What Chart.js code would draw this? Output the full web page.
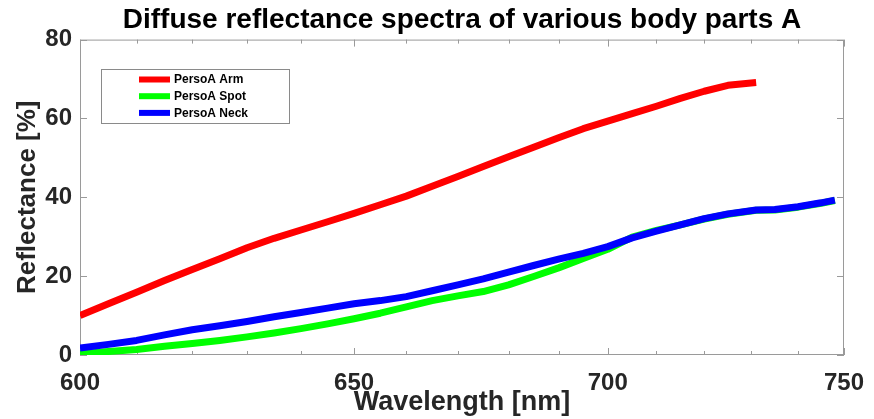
<!DOCTYPE html>
<html>
<head>
<meta charset="utf-8">
<title>Diffuse reflectance spectra</title>
<script src="https://cdn.jsdelivr.net/npm/chart.js@4.4.1/dist/chart.umd.min.js"></script>
<style>
  html, body { margin: 0; padding: 0; background: #fff; }
  canvas { display: block; }
</style>
</head>
<body>
<canvas id="spectra" width="874" height="419"></canvas>
<script>
// wavelength grid [nm]
const wavelengths = [600, 605, 610, 615, 620, 625, 630, 635, 640, 645, 650, 655, 660, 665, 670,
  675, 680, 685, 690, 695, 700, 705, 710, 715, 720, 725, 731, 735, 740, 745, 748];

// reflectance [%] per body part (arm stops at 731 nm)
const armValues = [10.0, 13.0, 15.9, 18.9, 21.7, 24.4, 27.2, 29.6, 31.7, 33.8, 35.9, 38.1, 40.3, 42.8, 45.3,
  47.8, 50.3, 52.7, 55.1, 57.4, 59.3, 61.2, 63.1, 65.1, 66.9, 68.4, 69.1];
const spotValues = [0.3, 0.9, 1.4, 2.2, 2.9, 3.7, 4.6, 5.6, 6.7, 7.9, 9.2, 10.6, 12.2, 13.8, 15.0,
  16.1, 17.8, 19.9, 22.1, 24.5, 26.8, 29.9, 31.6, 33.0, 34.5, 35.7, 36.7, 36.8, 37.5, 38.5, 39.2];
const neckValues = [1.8, 2.7, 3.7, 5.1, 6.4, 7.4, 8.5, 9.7, 10.8, 11.9, 13.0, 13.8, 14.8, 16.3, 17.8,
  19.3, 21.0, 22.7, 24.3, 25.8, 27.5, 29.7, 31.4, 33.0, 34.6, 35.8, 36.8, 36.9, 37.6, 38.6, 39.3];

const seriesLabels = ['PersoA Arm', 'PersoA Spot', 'PersoA Neck'];
const xTickValues = [600, 610, 620, 630, 640, 650, 660, 670, 680, 690, 700, 710, 720, 730, 740, 750];
const xTickLabels = [600, 650, 700, 750];
const yTickValues = [0, 20, 40, 60, 80];

const FONT = "'Liberation Sans', Arial, Helvetica, sans-serif";
const TEXT = '#262626';

function toPoints(values) {
  return values.map((v, i) => ({ x: wavelengths[i], y: v }));
}

// box around the axes with inward tick marks on all four sides
const axesBox = {
  id: 'axesBox',
  beforeDatasetsDraw(chart) {
    const { ctx, chartArea: a, scales } = chart;
    ctx.save();
    ctx.strokeStyle = '#9a9a9a';
    ctx.lineWidth = 1;
    ctx.strokeRect(a.left + 0.5, a.top + 0.5, a.right - a.left - 1, a.bottom - a.top - 1);
    ctx.beginPath();
    scales.x.ticks.forEach(t => {
      const px = Math.round(scales.x.getPixelForValue(t.value)) + 0.5;
      const len = xTickLabels.includes(t.value) ? 7 : 4;
      ctx.moveTo(px, a.bottom); ctx.lineTo(px, a.bottom - len);
      ctx.moveTo(px, a.top); ctx.lineTo(px, a.top + len);
    });
    scales.y.ticks.forEach(t => {
      const py = Math.round(scales.y.getPixelForValue(t.value)) + 0.5;
      ctx.moveTo(a.left, py); ctx.lineTo(a.left + 7, py);
      ctx.moveTo(a.right, py); ctx.lineTo(a.right - 7, py);
    });
    ctx.stroke();
    ctx.restore();
  }
};

// boxed legend inside the plot, upper left
const boxLegend = {
  id: 'boxLegend',
  afterDatasetsDraw(chart) {
    const { ctx } = chart;
    const x0 = 101, y0 = 69, w = 188, h = 54;
    ctx.save();
    ctx.fillStyle = '#fff';
    ctx.fillRect(x0, y0, w, h);
    ctx.strokeStyle = '#8a8a8a';
    ctx.lineWidth = 1;
    ctx.strokeRect(x0 + 0.5, y0 + 0.5, w, h);
    ctx.font = `bold 12px ${FONT}`;
    ctx.textBaseline = 'middle';
    chart.data.datasets.forEach((ds, i) => {
      const cy = y0 + 10.5 + i * 16.7;
      ctx.strokeStyle = ds.borderColor;
      ctx.lineWidth = 6;
      ctx.beginPath();
      ctx.moveTo(139, cy); ctx.lineTo(170, cy);
      ctx.stroke();
      ctx.fillStyle = '#000';
      ctx.fillText(ds.label, 174, cy + 0.5);
    });
    ctx.restore();
  }
};

new Chart(document.getElementById('spectra'), {
  type: 'line',
  data: {
    datasets: [
      { label: seriesLabels[0], data: toPoints(armValues), borderColor: '#ff0000', order: 2 },
      { label: seriesLabels[1], data: toPoints(spotValues), borderColor: '#00ff00', order: 1 },
      { label: seriesLabels[2], data: toPoints(neckValues), borderColor: '#0000ff', order: 0 }
    ]
  },
  options: {
    responsive: false,
    animation: false,
    layout: { padding: { left: 0, right: 30, top: 0, bottom: 0 } },
    elements: {
      line: { borderWidth: 7, tension: 0, fill: false, borderJoinStyle: 'round' },
      point: { radius: 0, hoverRadius: 0 }
    },
    scales: {
      x: {
        type: 'logarithmic',
        min: 600,
        max: 750,
        afterBuildTicks: scale => { scale.ticks = xTickValues.map(v => ({ value: v })); },
        afterFit: scale => {
          scale.height = 64;
          scale.paddingLeft = 0;
          scale.paddingRight = 0;
        },
        grid: { display: false, drawTicks: false },
        border: { display: false },
        ticks: {
          autoSkip: false,
          maxRotation: 0,
          padding: 14,
          color: TEXT,
          font: { family: FONT, size: 24, weight: 'bold' },
          callback: v => xTickLabels.includes(v) ? String(v) : ''
        },
        title: {
          display: true,
          text: 'Wavelength [nm]',
          color: TEXT,
          font: { family: FONT, size: 27, weight: 'bold' },
          padding: { top: 0, bottom: 0 }
        }
      },
      y: {
        min: 0,
        max: 80,
        afterBuildTicks: scale => { scale.ticks = yTickValues.map(v => ({ value: v })); },
        afterFit: scale => { scale.width = 80; },
        grid: { display: false, drawTicks: false },
        border: { display: false },
        ticks: {
          padding: 8,
          color: TEXT,
          font: { family: FONT, size: 24, weight: 'bold' }
        },
        title: {
          display: true,
          text: 'Reflectance [%]',
          color: TEXT,
          font: { family: FONT, size: 26, weight: 'bold' },
          padding: { top: 12, bottom: 0 }
        }
      }
    },
    plugins: {
      legend: { display: false },
      tooltip: { enabled: false },
      title: {
        display: true,
        fullSize: false,
        text: 'Diffuse reflectance spectra of various body parts A',
        color: '#000',
        font: { family: FONT, size: 28, weight: 'bold' },
        padding: { top: 3, bottom: 3 }
      }
    }
  },
  plugins: [axesBox, boxLegend]
});
</script>
</body>
</html>
